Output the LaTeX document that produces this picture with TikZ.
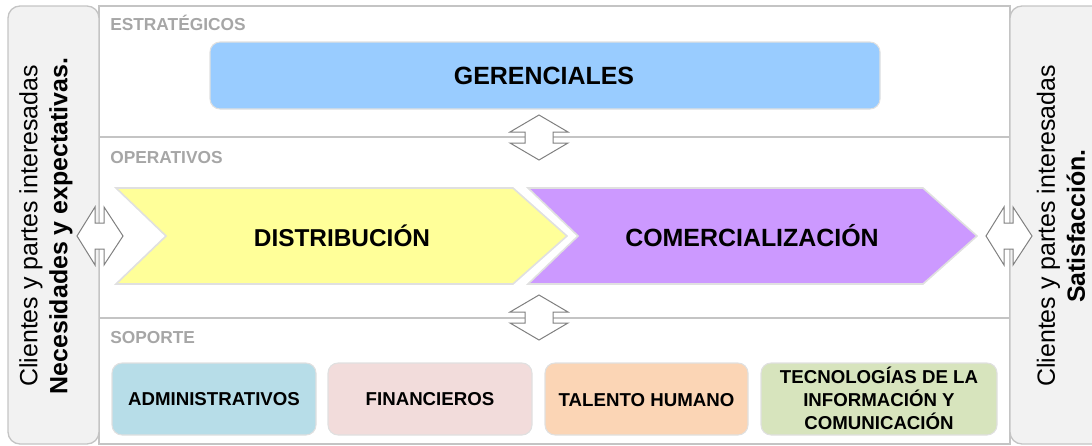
\documentclass[tikz,border=0pt]{standalone}
\usepackage{fontspec}
\setmainfont{Liberation Sans}
\definecolor{framegray}{HTML}{C4C4C4}
\definecolor{sidefill}{HTML}{F2F2F2}
\definecolor{labgray}{HTML}{A6A6A6}
\definecolor{arrgray}{HTML}{808080}
\definecolor{gerblue}{HTML}{99CCFF}
\definecolor{distyel}{HTML}{FFFF99}
\definecolor{compur}{HTML}{CC99FF}
\definecolor{admblue}{HTML}{B7DDE8}
\definecolor{finpink}{HTML}{F2DCDB}
\definecolor{talorange}{HTML}{FBD5B5}
\definecolor{tecgreen}{HTML}{D7E4BD}
\begin{document}
\begin{tikzpicture}[x=0.75pt,y=-0.75pt,
  frameline/.style={draw=framegray,line width=1pt},
  sidebox/.style={draw=framegray,fill=sidefill,line width=1pt,rounded corners=9pt},
  seclabel/.style={anchor=base west,text=labgray,font=\bfseries\fontsize{13}{15}\selectfont,inner sep=0pt},
  procbox/.style={draw=black!12,line width=0.8pt,rounded corners=7.5pt},
  chev/.style={draw=black!12,line width=1.2pt},
  bigtext/.style={font=\bfseries\fontsize{18.3}{21}\selectfont},
  smalltext/.style={font=\bfseries\fontsize{14}{17.3}\selectfont,align=center},
  dblarrow/.style={draw=arrgray,fill=white,line width=0.75pt,line join=miter},
  sidetext/.style={rotate=90,align=center,font=\fontsize{18.7}{22.5}\selectfont}
]
\clip (0,0) rectangle (1092,446);
% frame of the process map
\draw[frameline] (99,6) rectangle (1010,444);
\draw[frameline] (99,137) -- (1010,137);
\draw[frameline] (99,318) -- (1010,318);
% section labels
\node[seclabel] (lest) at (110,31) {ESTRATÉGICOS};
\node[seclabel] (lope) at (110,163) {OPERATIVOS};
\node[seclabel] (lsop) at (110,343) {SOPORTE};
% side boxes
\draw[sidebox] (8,6) rectangle (99,444);
\draw[sidebox] (1010,6) rectangle (1106,444);
\node[sidetext] (lefttext) at (46,226) {Clientes y partes interesadas\\\textbf{Necesidades y expectativas.}};
\node[sidetext] (righttext) at (1061,226) {Clientes y partes interesadas\\\textbf{Satisfacción.}};
% strategic
\draw[procbox,fill=gerblue] (210,42) rectangle (880,109);
\node[font=\bfseries\fontsize{18.7}{22}\selectfont] (ger) at (544,76) {GERENCIALES};
% operative chevrons
\draw[chev,fill=distyel] (116,188) -- (513,188) -- (567,236) -- (513,284) -- (116,284) -- (166,236) -- cycle;
\draw[chev,fill=compur] (528,188) -- (923,188) -- (977,236) -- (923,284) -- (528,284) -- (578,236) -- cycle;
\node[bigtext] (dist) at (342,236) {DISTRIBUCIÓN};
\node[bigtext,font=\bfseries\fontsize{18.7}{21}\selectfont] (com) at (752,236) {COMERCIALIZACIÓN};
% support boxes
\draw[procbox,fill=admblue] (112,363) rectangle (316,435);
\draw[procbox,fill=finpink] (328,363) rectangle (532,435);
\draw[procbox,fill=talorange] (545,363) rectangle (748,435);
\draw[procbox,fill=tecgreen] (761,363) rectangle (997,435);
\node[smalltext] (adm) at (214,399) {ADMINISTRATIVOS};
\node[smalltext] (fin) at (430,399) {FINANCIEROS};
\node[smalltext] (tal) at (646.5,400) {TALENTO HUMANO};
\node[smalltext] (tec) at (879,398) {TECNOLOGÍAS DE LA\\INFORMACIÓN Y\\COMUNICACIÓN};
% double arrows
\draw[dblarrow] (539,115) -- (568,132) -- (553,132) -- (553,143) -- (568,143) -- (539,160) -- (510,143) -- (525,143) -- (525,132) -- (510,132) -- cycle;
\draw[dblarrow] (539,295) -- (568,312) -- (553,312) -- (553,323) -- (568,323) -- (539,340) -- (510,323) -- (525,323) -- (525,312) -- (510,312) -- cycle;
\draw[dblarrow] (77,236) -- (95,207) -- (95,223) -- (104,223) -- (104,207) -- (123,236) -- (104,265) -- (104,249) -- (95,249) -- (95,265) -- cycle;
\draw[dblarrow] (986,236) -- (1004,207) -- (1004,223) -- (1013,223) -- (1013,207) -- (1032,236) -- (1013,265) -- (1013,249) -- (1004,249) -- (1004,265) -- cycle;
\end{tikzpicture}
\end{document}
